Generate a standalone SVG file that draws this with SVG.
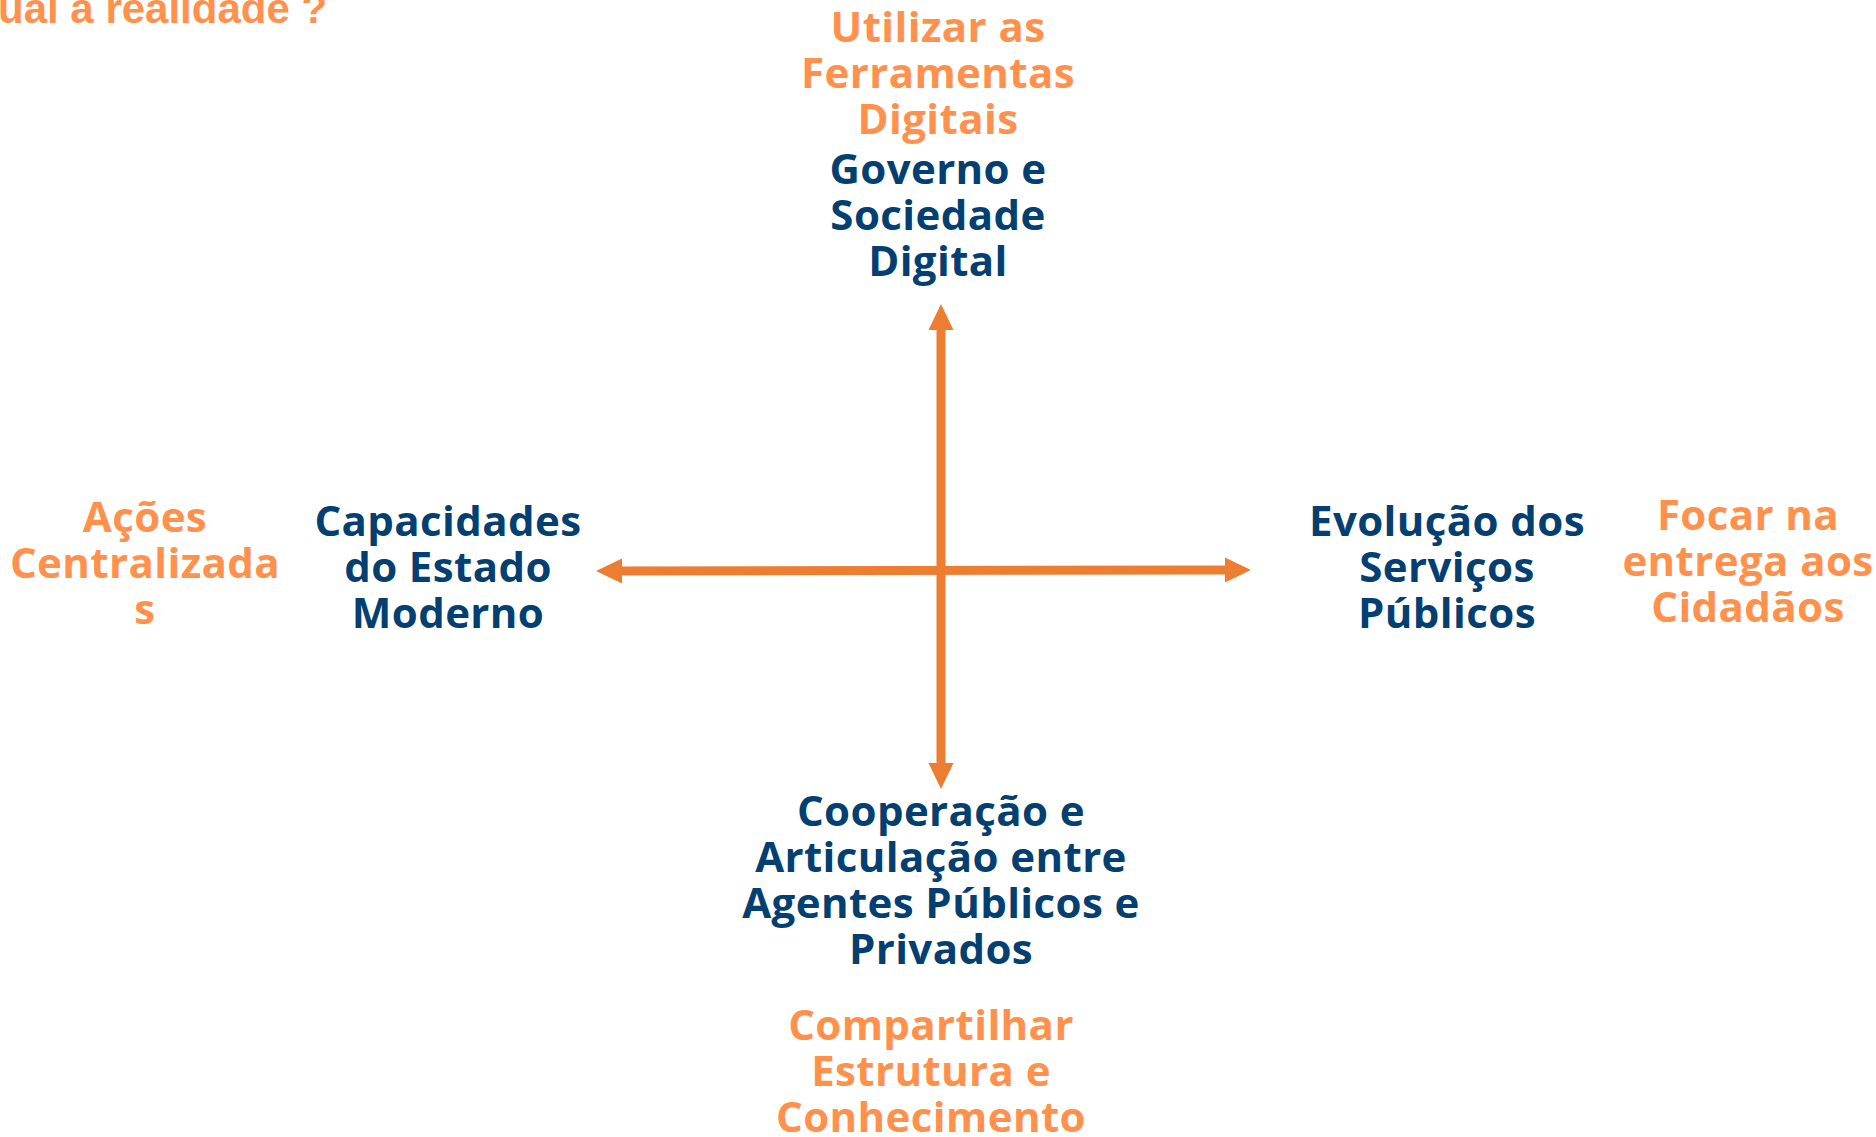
<svg xmlns="http://www.w3.org/2000/svg" width="1876" height="1137" viewBox="0 0 1876 1137">
<style>
.o{fill:#FF914D;font-family:"Open Sans","Noto Sans",sans-serif;font-weight:700;font-size:42px;letter-spacing:0.4px;text-anchor:middle}
.b{fill:#043F71;font-family:"Open Sans","Noto Sans",sans-serif;font-weight:700;font-size:42px;letter-spacing:0.4px;text-anchor:middle}
.t{fill:#FF914D;font-family:"Liberation Sans",Arial,sans-serif;font-weight:700;font-size:42px}
.ax{stroke:#ED7D31;stroke-width:9;fill:none}
</style>
<defs>
<marker id="ah" markerUnits="userSpaceOnUse" markerWidth="27" markerHeight="26" refX="1" refY="12.5" orient="auto-start-reverse">
<path d="M0,0 L26,12.5 L0,25 Z" fill="#ED7D31"/>
</marker>
</defs>
<rect width="1876" height="1137" fill="#fff"/>
<g id="title"><text class="t" x="-2" y="23">ual a realidade ?</text></g>
<g id="connectors">
<line class="ax" x1="941" y1="764" x2="941" y2="329" marker-start="url(#ah)" marker-end="url(#ah)"/>
<line class="ax" x1="621" y1="571" x2="1226" y2="570" marker-start="url(#ah)" marker-end="url(#ah)"/>
</g>
<g id="top-goal"><text class="o"><tspan x="938" y="42">Utilizar as</tspan><tspan x="938" y="88">Ferramentas</tspan><tspan x="938" y="134">Digitais</tspan></text></g>
<g id="top-node"><text class="b"><tspan x="938" y="184">Governo e</tspan><tspan x="938" y="230">Sociedade</tspan><tspan x="938" y="276">Digital</tspan></text></g>
<g id="left-goal"><text class="o"><tspan x="145" y="532">Ações</tspan><tspan x="145" y="578">Centralizada</tspan><tspan x="145" y="624">s</tspan></text></g>
<g id="left-node"><text class="b"><tspan x="448" y="536">Capacidades</tspan><tspan x="448" y="582">do Estado</tspan><tspan x="448" y="628">Moderno</tspan></text></g>
<g id="right-node"><text class="b"><tspan x="1447" y="536">Evolução dos</tspan><tspan x="1447" y="582">Serviços</tspan><tspan x="1447" y="628">Públicos</tspan></text></g>
<g id="right-goal"><text class="o"><tspan x="1748" y="530">Focar na</tspan><tspan x="1748" y="576">entrega aos</tspan><tspan x="1748" y="622">Cidadãos</tspan></text></g>
<g id="bottom-node"><text class="b"><tspan x="941" y="826">Cooperação e</tspan><tspan x="941" y="872">Articulação entre</tspan><tspan x="941" y="918">Agentes Públicos e</tspan><tspan x="941" y="964">Privados</tspan></text></g>
<g id="bottom-goal"><text class="o"><tspan x="931" y="1040">Compartilhar</tspan><tspan x="931" y="1086">Estrutura e</tspan><tspan x="931" y="1132">Conhecimento</tspan></text></g>
</svg>
